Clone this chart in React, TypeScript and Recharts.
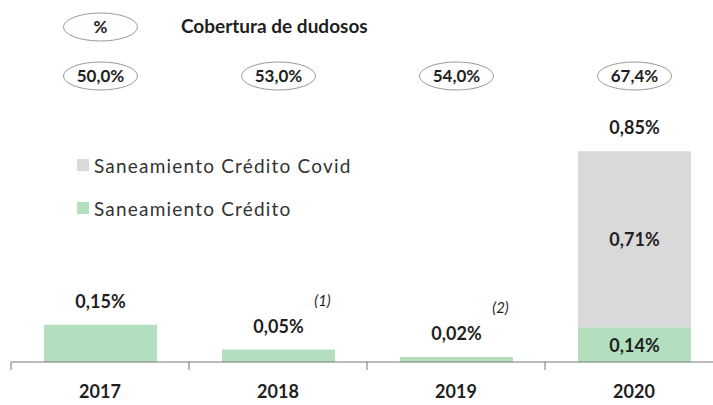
import { Bar, BarChart, LabelList, XAxis, YAxis } from "recharts";

const years = ["2017", "2018", "2019", "2020"];
const credito = [0.15, 0.05, 0.02, 0.14];
const covid = [0, 0, 0, 0.71];
const cobertura = ["50,0%", "53,0%", "54,0%", "67,4%"];
const notas = ["", "(1)", "(2)", ""];

const data = years.map((y, i) => ({
  year: y,
  credito: credito[i],
  covid: covid[i],
  total: +(credito[i] + covid[i]).toFixed(2),
}));

const FONT = "Lato, 'Open Sans', sans-serif";
const TEXT = "#1f1f1f";
const HALF_BAND = 89;

const fmt = (v: number) => v.toFixed(2).replace(".", ",") + "%";

const YearTick = (props: any) => {
  const { x, y, payload } = props;
  return (
    <g>
      <line x1={x - HALF_BAND} x2={x - HALF_BAND} y1={y - 8} y2={y} stroke="#777" />
      <text x={x} y={y + 28} textAnchor="middle" fontFamily={FONT} fontWeight="bold" fontSize={18} fill={TEXT}>
        {payload.value}
      </text>
    </g>
  );
};

// total on top of the stack + footnote, coverage ellipses above
const TopLabel = (props: any) => {
  const { x, y, width, height, index } = props;
  const cx = x + width / 2;
  const total = data[index].total;
  const top = y + height - (height * total) / credito[index];
  return (
    <g fontFamily={FONT} fill={TEXT}>
      <text x={cx} y={top - 17} textAnchor="middle" fontWeight="bold" fontSize={18}>
        {fmt(total)}
      </text>
      {notas[index] && (
        <text x={cx + 44} y={top - 44} textAnchor="middle" fontStyle="italic" fontSize={15}>
          {notas[index]}
        </text>
      )}
      <ellipse cx={cx} cy={76} rx={37} ry={14} fill="#fff" stroke="#999" />
      <text x={cx} y={82} textAnchor="middle" fontWeight="bold" fontSize={17}>
        {cobertura[index]}
      </text>
      {index === 0 && (
        <g>
          <ellipse cx={cx} cy={27} rx={37} ry={14} fill="#fff" stroke="#999" />
          <text x={cx} y={33} textAnchor="middle" fontWeight="bold" fontSize={17}>
            %
          </text>
          <text x={181} y={33} fontWeight="bold" fontSize={19}>
            Cobertura  de dudosos
          </text>
        </g>
      )}
    </g>
  );
};

const InsideLabel = (props: any) => {
  const { x, y, width, height, index, value } = props;
  if (!value || (props.stack === "credito" && !covid[index])) return null;
  return (
    <text x={x + width / 2} y={y + height / 2 + 7} textAnchor="middle" fontFamily={FONT} fontWeight="bold" fontSize={18} fill={TEXT}>
      {fmt(value)}
    </text>
  );
};

const LegendBox = () => (
  <div style={{ position: "absolute", left: 77, top: 152, fontFamily: FONT, fontSize: 19, letterSpacing: 1.2, color: "#333" }}>
    <div style={{ display: "flex", alignItems: "center", height: 26 }}>
      <span style={{ width: 12, height: 12, background: "#d9d9d9", marginRight: 5 }} />
      Saneamiento Crédito Covid
    </div>
    <div style={{ display: "flex", alignItems: "center", height: 26, marginTop: 17 }}>
      <span style={{ width: 12, height: 12, background: "#b3dfbf", marginRight: 5 }} />
      Saneamiento Crédito
    </div>
  </div>
);

export default function App() {
  return (
    <div style={{ position: "absolute", left: 0, top: 0, width: 713, height: 405, overflow: "hidden", background: "#fff" }}>
      <BarChart width={724} height={405} data={data} margin={{ top: 114, right: 1, left: 11, bottom: 13 }}>
        <XAxis dataKey="year" tick={<YearTick />} tickLine={false} axisLine={{ stroke: "#777" }} />
        <YAxis hide domain={[0, 1]} />
        <Bar dataKey="credito" stackId="a" fill="#b3dfbf" barSize={113} isAnimationActive={false}>
          <LabelList dataKey="credito" content={<InsideLabel stack="credito" />} />
          <LabelList dataKey="total" content={<TopLabel />} />
        </Bar>
        <Bar dataKey="covid" stackId="a" fill="#d9d9d9" barSize={113} isAnimationActive={false}>
          <LabelList dataKey="covid" content={<InsideLabel stack="covid" />} />
        </Bar>
      </BarChart>
      <LegendBox />
    </div>
  );
}
